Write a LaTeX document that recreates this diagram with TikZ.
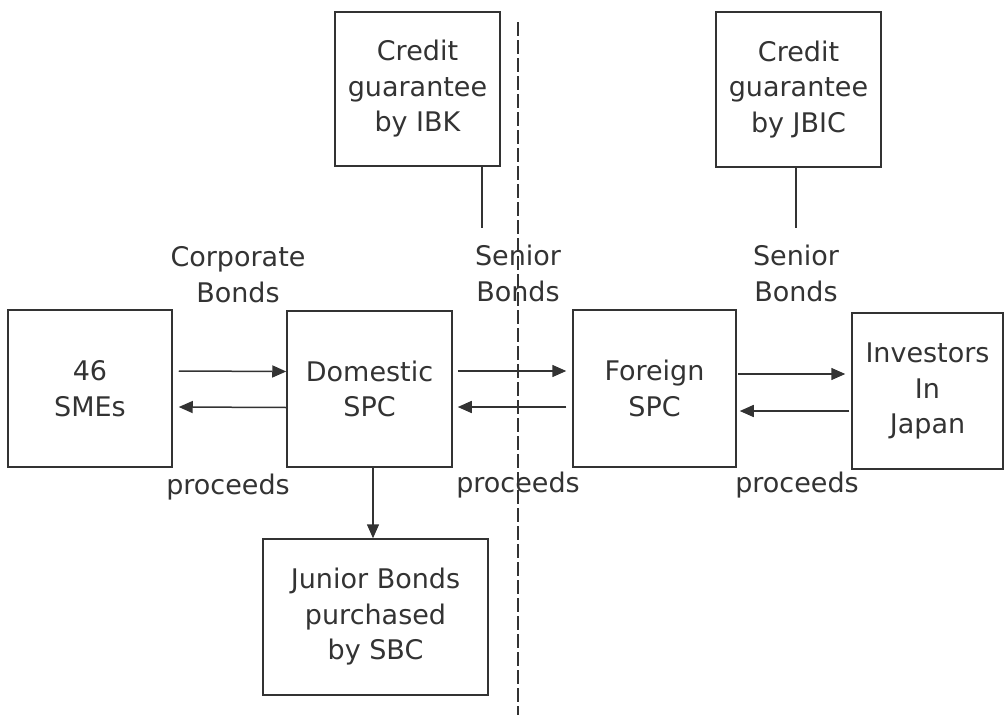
\documentclass[tikz,border=0pt]{standalone}
\usepackage{fontspec}
\setmainfont{DejaVu Sans}
\usetikzlibrary{arrows.meta}
\definecolor{ln}{HTML}{333333}
\definecolor{tx}{HTML}{333333}
\tikzset{
  box/.style={draw=ln, line width=1.5pt, rectangle, align=center, text=tx, inner sep=0pt,
    font=\fontsize{27}{35.5}\selectfont},
  lbl/.style={align=center, text=tx, inner sep=0pt, font=\fontsize{27}{36}\selectfont},
  arr/.style={draw=ln, line width=1.5pt, -{Triangle[length=14pt,width=12pt]}},
  conn/.style={draw=ln, line width=1.5pt},
  divider/.style={draw=ln, line width=1.5pt, dash pattern=on 14pt off 4pt}
}
\begin{document}
\begin{tikzpicture}[x=1pt,y=-1pt]
\useasboundingbox (0,0) rectangle (1005,715);
\node[box, minimum width=164pt, minimum height=157pt] (smes) at (90,388.5) {46\\SMEs};
\node[box, minimum width=165pt, minimum height=156pt] (dom) at (369.5,389) {Domestic\\SPC};
\node[box, minimum width=163pt, minimum height=157pt] (for) at (654.5,388.5) {Foreign\\SPC};
\node[box, minimum width=151pt, minimum height=156pt] (inv) at (927.5,391) {Investors\\In\\Japan};
\node[box, minimum width=165pt, minimum height=154pt] (ibk) at (417.5,89) {Credit\\guarantee\\by IBK};
\node[box, minimum width=165pt, minimum height=155pt] (jbic) at (798.5,89.5) {Credit\\guarantee\\by JBIC};
\node[box, minimum width=225pt, minimum height=156pt] (jun) at (375.5,617) {Junior Bonds\\purchased\\by SBC};

\node[lbl] (lcorp) at (238,275) {Corporate\\Bonds};
\node[lbl] (lsen1) at (518,273.5) {Senior\\Bonds};
\node[lbl] (lsen2) at (796,273.5) {Senior\\Bonds};
\node[lbl] (lpro1) at (228,487) {proceeds};
\node[lbl] (lpro2) at (518,485) {proceeds};
\node[lbl] (lpro3) at (797,485) {proceeds};

\coordinate (dtop) at (518,22);
\coordinate (dbot) at (518,715);
\draw[divider] (dtop) -- (dbot);

\coordinate (ibkend) at (482,228);
\coordinate (jbicend) at (796,228);
\draw[conn] (ibk.south -| ibkend) -- (ibkend);
\draw[conn] (jbic.south -| jbicend) -- (jbicend);

% SMEs <-> Domestic
\draw[arr] ([yshift=17.5pt,xshift=6pt]smes.east) -- ([yshift=17.5pt]dom.west);
\draw[arr] ([yshift=-18.5pt]dom.west) -- ([yshift=-18.5pt,xshift=6pt]smes.east);
% Domestic <-> Foreign
\draw[arr] ([yshift=18pt,xshift=5pt]dom.east) -- ([yshift=17.5pt,xshift=-6pt]for.west);
\draw[arr] ([yshift=-18.5pt,xshift=-6pt]for.west) -- ([yshift=-18pt,xshift=5pt]dom.east);
% Foreign <-> Investors
\draw[arr] ([yshift=14.5pt,xshift=1pt]for.east) -- ([yshift=17pt,xshift=-6pt]inv.west);
\draw[arr] ([yshift=-20pt,xshift=-2pt]inv.west) -- ([yshift=-22.5pt,xshift=3pt]for.east);
% Domestic -> Junior
\draw[arr] ([xshift=3.5pt]dom.south) -- ([xshift=-2.5pt]jun.north);
\end{tikzpicture}
\end{document}
